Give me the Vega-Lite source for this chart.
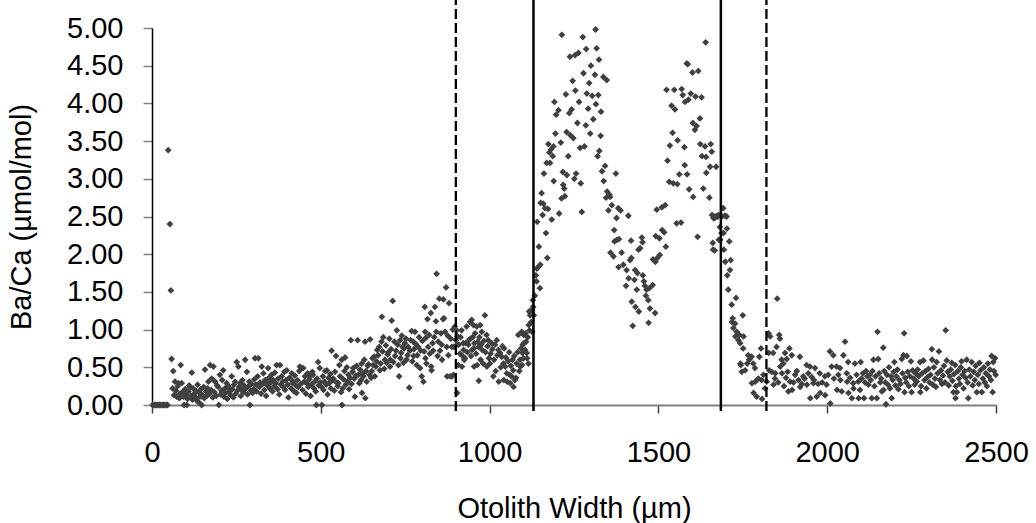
{
  "$schema": "https://vega.github.io/schema/vega-lite/v6.json",
  "width": 844,
  "height": 377,
  "autosize": {"type": "none"},
  "padding": {"left": 152, "top": 28, "right": 40, "bottom": 118},
  "background": "white",
  "config": {
    "view": {"stroke": null},
    "font": "Liberation Sans",
    "axis": {"grid": false, "labelColor": "#000000", "titleColor": "#000000", "titleFontWeight": "normal", "labelFontSize": 29, "titleFontSize": 29, "labelFont": "Liberation Sans", "titleFont": "Liberation Sans", "labelOverlap": false, "labelSeparation": 0, "labelFlush": false, "labelBound": false}
  },
  "datasets": {
    "scan": [
      {"w":2,"r":0},{"w":6,"r":0},{"w":10,"r":0},{"w":14,"r":0},{"w":18,"r":0},{"w":22,"r":0},{"w":26,"r":0},{"w":30,"r":0},{"w":34,"r":0},{"w":38,"r":0},{"w":42,"r":0},{"w":46,"r":0},
      {"w":48,"r":3.38},{"w":53,"r":2.40},{"w":56,"r":1.52},{"w":58,"r":0.61},
      {"w":61,"r":0.22},{"w":63,"r":0.45},{"w":65,"r":0.13},{"w":68,"r":0.31},{"w":71,"r":0.19},{"w":73,"r":0.11},{"w":76,"r":0.25},{"w":78,"r":0.29},{"w":81,"r":0.09},{"w":83,"r":0.15},{"w":85,"r":0.53},{"w":88,"r":0.29},{"w":90,"r":0.17},{"w":93,"r":0.11},{"w":95,"r":0.0},{"w":98,"r":0.21},{"w":100,"r":0.14},{"w":103,"r":0.0},{"w":105,"r":0.08},{"w":108,"r":0.18},{"w":110,"r":0.26},{"w":113,"r":0.24},{"w":115,"r":0.12},{"w":118,"r":0.43},{"w":120,"r":0.07},{"w":122,"r":0.22},{"w":125,"r":0.15},{"w":127,"r":0.11},{"w":130,"r":0.19},{"w":133,"r":0.06},{"w":135,"r":0.27},{"w":137,"r":0.04},{"w":140,"r":0.16},{"w":142,"r":0.11},{"w":145,"r":0.21},{"w":147,"r":0.0},{"w":150,"r":0.13},{"w":153,"r":0.24},{"w":155,"r":0.09},{"w":157,"r":0.47},{"w":160,"r":0.18},{"w":162,"r":0.12},{"w":165,"r":0.22},{"w":167,"r":0.31},{"w":170,"r":0.15},{"w":172,"r":0.53},{"w":175,"r":0.20},{"w":177,"r":0.35},{"w":180,"r":0.10},{"w":182,"r":0.51},{"w":185,"r":0.17},{"w":187,"r":0.31},{"w":190,"r":0.12},{"w":193,"r":0.26},{"w":196,"r":0.24},{"w":198,"r":0.0},{"w":201,"r":0.40},{"w":203,"r":0.14},{"w":206,"r":0.19},{"w":208,"r":0.33},{"w":211,"r":0.46},{"w":213,"r":0.11},{"w":216,"r":0.22},{"w":218,"r":0.16},{"w":221,"r":0.29},{"w":223,"r":0.08},{"w":226,"r":0.25},{"w":228,"r":0.17},{"w":231,"r":0.20},{"w":233,"r":0.13},{"w":236,"r":0.38},{"w":238,"r":0.21},{"w":241,"r":0.10},{"w":243,"r":0.27},{"w":246,"r":0.31},{"w":248,"r":0.15},{"w":251,"r":0.57},{"w":253,"r":0.19},{"w":256,"r":0.51},{"w":258,"r":0.24},{"w":261,"r":0.29},{"w":263,"r":0.12},{"w":266,"r":0.20},{"w":268,"r":0.33},{"w":271,"r":0.17},{"w":273,"r":0.26},{"w":276,"r":0.60},{"w":278,"r":0.22},{"w":281,"r":0.44},{"w":283,"r":0.14},{"w":286,"r":0.25},{"w":288,"r":0.31},{"w":290,"r":0.0},{"w":293,"r":0.19},{"w":295,"r":0.28},{"w":298,"r":0.16},
      {"w":301,"r":0.21},{"w":303,"r":0.34},{"w":305,"r":0.62},{"w":308,"r":0.27},{"w":310,"r":0.18},{"w":313,"r":0.38},{"w":315,"r":0.62},{"w":318,"r":0.24},{"w":320,"r":0.30},{"w":323,"r":0.15},{"w":325,"r":0.51},{"w":328,"r":0.28},{"w":330,"r":0.42},{"w":333,"r":0.20},{"w":335,"r":0.33},{"w":338,"r":0.12},{"w":339,"r":0.31},{"w":342,"r":0.26},{"w":344,"r":0.49},{"w":347,"r":0.36},{"w":349,"r":0.22},{"w":352,"r":0.30},{"w":354,"r":0.40},{"w":357,"r":0.18},{"w":359,"r":0.33},{"w":362,"r":0.25},{"w":364,"r":0.43},{"w":367,"r":0.29},{"w":369,"r":0.53},{"w":372,"r":0.21},{"w":374,"r":0.35},{"w":377,"r":0.14},{"w":379,"r":0.53},{"w":382,"r":0.27},{"w":384,"r":0.38},{"w":387,"r":0.31},{"w":389,"r":0.24},{"w":392,"r":0.44},{"w":394,"r":0.20},{"w":397,"r":0.33},{"w":399,"r":0.46},{"w":402,"r":0.27},{"w":404,"r":0.10},{"w":407,"r":0.36},{"w":409,"r":0.35},{"w":412,"r":0.22},{"w":414,"r":0.42},{"w":417,"r":0.29},{"w":418,"r":0.31},{"w":421,"r":0.18},{"w":423,"r":0.39},{"w":426,"r":0.26},{"w":428,"r":0.16},{"w":431,"r":0.33},{"w":433,"r":0.24},{"w":436,"r":0.45},{"w":438,"r":0.51},{"w":441,"r":0.28},{"w":443,"r":0.49},{"w":446,"r":0.20},{"w":448,"r":0.49},{"w":451,"r":0.31},{"w":453,"r":0.38},{"w":456,"r":0.15},{"w":458,"r":0.29},{"w":461,"r":0.42},{"w":463,"r":0.24},{"w":466,"r":0.34},{"w":467,"r":0.38},{"w":470,"r":0.12},{"w":472,"r":0.27},{"w":475,"r":0.44},{"w":477,"r":0.40},{"w":480,"r":0.22},{"w":482,"r":0.31},{"w":485,"r":0.18},{"w":487,"r":0.0},{"w":489,"r":0.35},{"w":492,"r":0.57},{"w":494,"r":0.26},{"w":497,"r":0.49},{"w":499,"r":0.30},
      {"w":502,"r":0.24},{"w":503,"r":0.0},{"w":506,"r":0.38},{"w":508,"r":0.20},{"w":511,"r":0.31},{"w":513,"r":0.45},{"w":516,"r":0.27},{"w":518,"r":0.46},{"w":520,"r":0.14},{"w":523,"r":0.36},{"w":525,"r":0.29},{"w":528,"r":0.41},{"w":530,"r":0.22},{"w":532,"r":0.72},{"w":535,"r":0.33},{"w":537,"r":0.35},{"w":540,"r":0.19},{"w":542,"r":0.44},{"w":545,"r":0.65},{"w":547,"r":0.30},{"w":550,"r":0.25},{"w":552,"r":0.29},{"w":555,"r":0.53},{"w":557,"r":0.38},{"w":560,"r":0.17},{"w":562,"r":0.60},{"w":563,"r":0.0},{"w":565,"r":0.22},{"w":567,"r":0.34},{"w":570,"r":0.45},{"w":572,"r":0.63},{"w":574,"r":0.27},{"w":577,"r":0.50},{"w":579,"r":0.31},{"w":582,"r":0.40},{"w":584,"r":0.21},{"w":587,"r":0.36},{"w":589,"r":0.86},{"w":591,"r":0.28},{"w":594,"r":0.44},{"w":596,"r":0.49},{"w":599,"r":0.35},{"w":601,"r":0.11},{"w":604,"r":0.39},{"w":606,"r":0.52},{"w":609,"r":0.86},{"w":611,"r":0.40},{"w":614,"r":0.29},{"w":616,"r":0.47},{"w":619,"r":0.33},{"w":621,"r":0.55},{"w":622,"r":0.16},{"w":624,"r":0.42},{"w":626,"r":0.38},{"w":629,"r":0.60},{"w":631,"r":0.84},{"w":632,"r":0.09},{"w":634,"r":0.45},{"w":636,"r":0.31},{"w":639,"r":0.52},{"w":641,"r":0.54},{"w":644,"r":0.40},{"w":646,"r":0.87},{"w":649,"r":0.36},
      {"w":651,"r":0.45},{"w":653,"r":0.62},{"w":655,"r":0.53},{"w":658,"r":0.64},{"w":660,"r":0.38},{"w":663,"r":0.51},{"w":665,"r":0.58},{"w":667,"r":0.73},{"w":670,"r":0.66},{"w":673,"r":0.77},{"w":675,"r":0.46},{"w":677,"r":0.55},{"w":680,"r":0.84},{"w":681,"r":1.17},{"w":683,"r":0.71},{"w":685,"r":0.90},{"w":688,"r":0.48},{"w":690,"r":0.60},{"w":693,"r":0.79},{"w":695,"r":0.56},{"w":698,"r":0.67},{"w":700,"r":0.70},{"w":703,"r":0.88},{"w":705,"r":0.51},{"w":706,"r":0.60},{"w":708,"r":0.74},{"w":710,"r":1.12},{"w":713,"r":1.38},{"w":715,"r":0.57},{"w":718,"r":0.84},{"w":720,"r":0.65},{"w":723,"r":0.72},{"w":725,"r":0.99},{"w":728,"r":0.80},{"w":730,"r":0.53},{"w":732,"r":0.38},{"w":735,"r":0.86},{"w":736,"r":0.62},{"w":738,"r":0.69},{"w":740,"r":0.92},{"w":742,"r":0.77},{"w":745,"r":0.56},{"w":747,"r":0.75},{"w":749,"r":0.82},{"w":752,"r":0.88},{"w":754,"r":0.60},{"w":757,"r":0.66},{"w":759,"r":0.77},{"w":762,"r":0.23},{"w":764,"r":0.72},{"w":766,"r":0.86},{"w":769,"r":0.98},{"w":771,"r":0.58},{"w":774,"r":0.84},{"w":775,"r":0.65},{"w":776,"r":0.74},{"w":779,"r":0.97},{"w":781,"r":0.81},{"w":784,"r":0.53},{"w":786,"r":0.66},{"w":789,"r":0.77},{"w":791,"r":0.90},{"w":794,"r":0.49},{"w":796,"r":0.72},{"w":799,"r":0.38},{"w":801,"r":0.85},{"w":804,"r":0.31},{"w":806,"r":0.71},{"w":808,"r":1.30},{"w":809,"r":0.97},{"w":810,"r":0.62},{"w":811,"r":0.89},{"w":813,"r":0.55},{"w":816,"r":1.14},{"w":818,"r":0.77},{"w":821,"r":0.93},{"w":823,"r":0.68},{"w":826,"r":1.22},{"w":827,"r":0.51},{"w":828,"r":0.46},{"w":831,"r":0.82},{"w":833,"r":0.72},{"w":836,"r":0.90},{"w":838,"r":1.30},{"w":841,"r":1.11},{"w":842,"r":0.97},{"w":843,"r":1.74},{"w":846,"r":0.65},{"w":848,"r":0.84},
      {"w":851,"r":1.41},{"w":853,"r":0.72},{"w":856,"r":0.95},{"w":858,"r":0.80},{"w":859,"r":0.60},{"w":862,"r":1.14},{"w":863,"r":1.40},{"w":865,"r":1.15},{"w":868,"r":0.97},{"w":871,"r":1.56},{"w":873,"r":0.77},{"w":874,"r":0.38},{"w":876,"r":0.92},{"w":878,"r":0.66},{"w":880,"r":1.35},{"w":883,"r":0.38},{"w":885,"r":0.88},{"w":888,"r":0.77},{"w":889,"r":0.38},{"w":891,"r":1.00},{"w":893,"r":0.40},{"w":894,"r":0.77},{"w":897,"r":1.04},{"w":900,"r":0.86},{"w":902,"r":0.99},{"w":903,"r":0.80},{"w":904,"r":0.16},{"w":905,"r":0.91},{"w":907,"r":0.53},{"w":909,"r":0.80},{"w":912,"r":0.68},{"w":914,"r":0.90},{"w":917,"r":0.99},{"w":918,"r":0.51},{"w":920,"r":0.65},{"w":922,"r":0.82},{"w":923,"r":0.73},{"w":925,"r":0.60},{"w":927,"r":0.62},{"w":929,"r":0.82},{"w":932,"r":1.04},{"w":934,"r":0.70},{"w":937,"r":0.80},{"w":939,"r":0.86},{"w":942,"r":1.10},{"w":943,"r":0.88},{"w":945,"r":0.65},{"w":947,"r":1.13},{"w":948,"r":0.73},{"w":950,"r":0.90},{"w":952,"r":1.06},{"w":953,"r":0.75},{"w":954,"r":0.51},{"w":955,"r":0.82},{"w":957,"r":0.95},{"w":960,"r":0.68},{"w":962,"r":1.04},{"w":963,"r":0.53},{"w":965,"r":0.84},{"w":967,"r":0.77},{"w":968,"r":0.32},{"w":970,"r":0.90},{"w":972,"r":1.06},{"w":973,"r":0.60},{"w":975,"r":0.80},{"w":977,"r":0.97},{"w":978,"r":0.73},{"w":981,"r":0.55},{"w":983,"r":0.85},{"w":986,"r":1.19},{"w":988,"r":0.70},{"w":991,"r":0.93},{"w":992,"r":0.51},{"w":994,"r":0.78},{"w":996,"r":0.86},{"w":998,"r":0.62},
      {"w":1001,"r":0.55},{"w":1003,"r":0.68},{"w":1006,"r":0.82},{"w":1008,"r":0.74},{"w":1011,"r":0.38},{"w":1013,"r":0.60},{"w":1016,"r":0.80},{"w":1018,"r":0.45},{"w":1021,"r":0.86},{"w":1023,"r":0.66},{"w":1026,"r":0.73},{"w":1027,"r":0.31},{"w":1031,"r":0.69},{"w":1033,"r":0.50},{"w":1036,"r":0.64},{"w":1038,"r":0.78},{"w":1041,"r":0.55},{"w":1042,"r":0.33},{"w":1043,"r":0.75},{"w":1046,"r":0.51},{"w":1048,"r":0.63},{"w":1051,"r":0.42},{"w":1052,"r":0.31},{"w":1055,"r":0.58},{"w":1058,"r":0.70},{"w":1060,"r":0.40},{"w":1061,"r":0.29},{"w":1063,"r":0.52},{"w":1065,"r":0.38},{"w":1068,"r":0.60},{"w":1070,"r":0.46},{"w":1071,"r":0.24},{"w":1073,"r":0.65},{"w":1075,"r":0.33},{"w":1078,"r":0.36},{"w":1080,"r":0.55},{"w":1083,"r":0.70},{"w":1085,"r":0.93},{"w":1088,"r":0.45},{"w":1090,"r":0.60},{"w":1091,"r":0.51},{"w":1093,"r":0.75},{"w":1095,"r":0.97},{"w":1096,"r":0.53},{"w":1097,"r":0.69},{"w":1098,"r":0.80},{"w":1100,"r":0.62},{"w":1101,"r":0.93},{"w":1102,"r":0.82},{"w":1105,"r":0.73},{"w":1106,"r":0.95},{"w":1108,"r":0.84},{"w":1110,"r":0.69},{"w":1111,"r":0.62},{"w":1113,"r":0.90},{"w":1115,"r":0.55},{"w":1116,"r":1.06},{"w":1117,"r":1.24},{"w":1118,"r":0.99},{"w":1120,"r":1.19},{"w":1123,"r":1.10},{"w":1125,"r":1.26},{"w":1126,"r":0.97},{"w":1128,"r":1.39},{"w":1129,"r":1.30},{"w":1131,"r":1.19},
      {"w":1134,"r":1.45},{"w":1137,"r":1.72},{"w":1139,"r":1.64},{"w":1140,"r":1.81},{"w":1141,"r":2.43},{"w":1144,"r":1.83},{"w":1146,"r":2.10},{"w":1149,"r":1.55},{"w":1150,"r":1.86},{"w":1151,"r":2.68},{"w":1154,"r":2.81},{"w":1157,"r":2.52},{"w":1159,"r":2.67},{"w":1161,"r":3.07},{"w":1164,"r":2.61},{"w":1167,"r":2.28},{"w":1169,"r":3.21},{"w":1171,"r":1.95},{"w":1173,"r":2.60},{"w":1174,"r":3.46},{"w":1177,"r":3.35},{"w":1179,"r":3.21},{"w":1182,"r":3.39},{"w":1184,"r":2.46},{"w":1187,"r":3.30},{"w":1189,"r":3.43},{"w":1190,"r":2.97},{"w":1192,"r":4.02},{"w":1195,"r":3.60},{"w":1197,"r":3.85},
      {"w":1204,"r":3.91},{"w":1206,"r":2.54},{"w":1211,"r":3.48},{"w":1213,"r":2.74},{"w":1214,"r":4.91},{"w":1217,"r":3.09},{"w":1218,"r":2.92},{"w":1221,"r":2.87},{"w":1223,"r":2.77},{"w":1226,"r":4.12},{"w":1228,"r":3.62},{"w":1229,"r":3.05},{"w":1233,"r":3.30},{"w":1236,"r":3.87},{"w":1238,"r":4.62},{"w":1239,"r":3.58},{"w":1243,"r":3.92},{"w":1246,"r":4.30},{"w":1248,"r":3.54},{"w":1251,"r":3.00},{"w":1253,"r":4.64},{"w":1254,"r":4.17},{"w":1256,"r":3.07},{"w":1260,"r":3.74},{"w":1263,"r":4.67},{"w":1265,"r":4.02},{"w":1268,"r":3.41},{"w":1270,"r":2.94},{"w":1273,"r":2.56},{"w":1276,"r":4.88},{"w":1278,"r":4.40},{"w":1281,"r":3.43},{"w":1285,"r":3.71},{"w":1286,"r":4.72},{"w":1288,"r":4.13},{"w":1292,"r":3.93},{"w":1295,"r":4.27},{"w":1298,"r":3.60},{"w":1300,"r":4.50},{"w":1304,"r":4.10},{"w":1307,"r":3.79},{"w":1312,"r":4.38},{"w":1314,"r":4.98},{"w":1315,"r":3.99},{"w":1317,"r":4.73},{"w":1320,"r":3.30},{"w":1322,"r":4.11},{"w":1324,"r":4.58},{"w":1325,"r":3.37},{"w":1329,"r":3.57},{"w":1330,"r":3.89},{"w":1333,"r":3.10},{"w":1337,"r":4.35},{"w":1338,"r":2.97},{"w":1342,"r":3.17},{"w":1345,"r":2.75},{"w":1347,"r":4.31},{"w":1348,"r":2.83},
      {"w":1352,"r":2.58},{"w":1355,"r":2.79},{"w":1357,"r":2.76},{"w":1358,"r":2.02},{"w":1362,"r":2.65},{"w":1367,"r":1.97},{"w":1369,"r":2.32},{"w":1370,"r":2.17},{"w":1374,"r":3.07},{"w":1376,"r":2.48},{"w":1377,"r":2.19},{"w":1381,"r":2.61},{"w":1382,"r":1.83},{"w":1383,"r":2.20},{"w":1388,"r":2.58},{"w":1391,"r":2.02},{"w":1396,"r":1.86},{"w":1404,"r":1.58},{"w":1406,"r":1.79},{"w":1411,"r":2.51},{"w":1412,"r":1.68},{"w":1416,"r":1.92},{"w":1419,"r":2.18},{"w":1420,"r":1.95},{"w":1421,"r":1.37},{"w":1424,"r":1.05},{"w":1429,"r":1.66},{"w":1431,"r":1.79},{"w":1432,"r":1.30},{"w":1436,"r":1.53},{"w":1438,"r":1.75},{"w":1441,"r":2.06},{"w":1442,"r":1.24},{"w":1446,"r":2.08},{"w":1451,"r":2.22},{"w":1453,"r":2.16},{"w":1454,"r":1.72},{"w":1457,"r":1.64},{"w":1460,"r":1.58},{"w":1463,"r":1.45},{"w":1465,"r":1.53},{"w":1470,"r":1.39},{"w":1471,"r":1.09},{"w":1473,"r":1.55},{"w":1475,"r":1.28},{"w":1483,"r":1.59},{"w":1484,"r":1.93},{"w":1490,"r":1.22},{"w":1491,"r":1.90},{"w":1492,"r":2.24},
      {"w":1495,"r":2.59},{"w":1497,"r":1.95},{"w":1503,"r":2.21},{"w":1504,"r":1.99},{"w":1510,"r":2.62},{"w":1511,"r":2.32},{"w":1517,"r":2.29},{"w":1520,"r":2.65},{"w":1522,"r":2.10},{"w":1524,"r":4.18},{"w":1527,"r":3.24},{"w":1532,"r":2.96},{"w":1534,"r":3.44},{"w":1539,"r":3.97},{"w":1542,"r":3.61},{"w":1544,"r":2.94},{"w":1547,"r":4.18},{"w":1549,"r":3.92},{"w":1554,"r":2.41},{"w":1556,"r":2.93},{"w":1557,"r":3.51},{"w":1562,"r":3.06},{"w":1567,"r":2.42},{"w":1569,"r":4.19},{"w":1572,"r":4.11},{"w":1577,"r":3.42},{"w":1578,"r":3.18},{"w":1579,"r":4.02},{"w":1584,"r":4.53},{"w":1585,"r":3.06},{"w":1587,"r":4.52},{"w":1589,"r":4.05},{"w":1591,"r":2.86},{"w":1596,"r":4.13},{"w":1601,"r":4.41},{"w":1602,"r":3.74},{"w":1603,"r":2.76},{"w":1608,"r":3.65},{"w":1610,"r":4.09},{"w":1613,"r":3.70},{"w":1616,"r":2.23},{"w":1618,"r":4.43},{"w":1623,"r":3.80},{"w":1624,"r":3.46},{"w":1628,"r":4.08},{"w":1629,"r":3.30},{"w":1633,"r":2.87},{"w":1638,"r":3.43},{"w":1640,"r":4.81},{"w":1641,"r":3.29},{"w":1642,"r":3.08},{"w":1651,"r":2.75},{"w":1653,"r":3.16},{"w":1655,"r":3.46},{"w":1658,"r":3.36},{"w":1659,"r":2.52},{"w":1661,"r":2.15},{"w":1662,"r":2.06},{"w":1663,"r":2.48},{"w":1666,"r":2.48},{"w":1667,"r":2.05},{"w":1668,"r":2.50},{"w":1671,"r":3.16},{"w":1673,"r":2.50},{"w":1676,"r":2.50},{"w":1678,"r":2.52},{"w":1679,"r":2.19},
      {"w":1682,"r":2.36},{"w":1683,"r":2.19},{"w":1687,"r":2.28},{"w":1688,"r":2.50},{"w":1692,"r":2.61},{"w":1693,"r":2.28},{"w":1694,"r":2.06},{"w":1697,"r":2.51},{"w":1698,"r":1.90},{"w":1702,"r":2.50},{"w":1703,"r":2.34},{"w":1704,"r":1.72},{"w":1707,"r":1.53},{"w":1710,"r":2.17},{"w":1712,"r":1.79},{"w":1714,"r":1.92},{"w":1717,"r":1.33},{"w":1718,"r":1.10},{"w":1720,"r":1.15},{"w":1722,"r":1.02},{"w":1727,"r":1.08},{"w":1728,"r":0.91},{"w":1730,"r":1.42},{"w":1732,"r":0.97},{"w":1737,"r":0.86},{"w":1740,"r":0.93},{"w":1742,"r":0.82},{"w":1743,"r":0.55},{"w":1744,"r":0.53},{"w":1747,"r":0.44},{"w":1750,"r":1.19},{"w":1751,"r":0.75},{"w":1752,"r":0.91},{"w":1757,"r":0.46},{"w":1763,"r":0.55},{"w":1766,"r":0.66},{"w":1769,"r":0.60},{"w":1776,"r":0.64},{"w":1777,"r":0.29},{"w":1781,"r":0.55},{"w":1782,"r":0.16},{"w":1786,"r":0.49},{"w":1787,"r":0.31},{"w":1791,"r":0.11},{"w":1796,"r":0.35},{"w":1799,"r":0.64},{"w":1804,"r":0.75},{"w":1806,"r":0.33},{"w":1807,"r":0.08},{"w":1811,"r":0.40},{"w":1816,"r":0.22},{"w":1821,"r":0.31},{"w":1826,"r":0.95},{"w":1827,"r":0.69},{"w":1828,"r":0.46},{"w":1831,"r":0.91},{"w":1836,"r":0.44},{"w":1840,"r":0.69},{"w":1841,"r":0.27},{"w":1845,"r":0.35},{"w":1846,"r":0.42},{"w":1850,"r":0.77},{"w":1852,"r":1.41},{"w":1855,"r":0.30},{"w":1858,"r":0.93},{"w":1860,"r":0.88},{"w":1861,"r":0.51},{"w":1865,"r":0.60},{"w":1866,"r":0.42},{"w":1870,"r":0.55},{"w":1872,"r":0.25},{"w":1875,"r":0.69},{"w":1878,"r":0.36},{"w":1880,"r":0.61},{"w":1883,"r":0.44},{"w":1885,"r":0.18},{"w":1888,"r":0.75},{"w":1890,"r":0.31},{"w":1895,"r":0.66},{"w":1896,"r":0.20},{"w":1900,"r":0.30},{"w":1905,"r":0.40},{"w":1910,"r":0.45},{"w":1915,"r":0.33},{"w":1919,"r":0.64},{"w":1920,"r":0.24},{"w":1925,"r":0.28},{"w":1929,"r":0.38},{"w":1933,"r":0.35},{"w":1939,"r":0.53},{"w":1940,"r":0.27},{"w":1944,"r":0.42},{"w":1949,"r":0.51},{"w":1950,"r":0.09},{"w":1954,"r":0.37},{"w":1959,"r":0.29},{"w":1961,"r":0.33},{"w":1964,"r":0.49},{"w":1969,"r":0.11},{"w":1973,"r":0.28},{"w":1978,"r":0.42},{"w":1979,"r":0.16},{"w":1985,"r":0.30},{"w":1993,"r":0.38},{"w":1994,"r":0.13},{"w":1998,"r":0.27},{"w":2003,"r":0.40},{"w":2008,"r":0.71},{"w":2009,"r":0.02},{"w":2013,"r":0.51},{"w":2018,"r":0.66},{"w":2020,"r":0.35},{"w":2028,"r":0.51},{"w":2029,"r":0.20},{"w":2033,"r":0.40},{"w":2038,"r":0.49},{"w":2039,"r":0.33},{"w":2043,"r":0.18},{"w":2048,"r":0.66},{"w":2053,"r":0.84},{"w":2058,"r":0.42},{"w":2059,"r":0.31},{"w":2062,"r":0.57},{"w":2063,"r":0.16},{"w":2068,"r":0.36},{"w":2073,"r":0.09},{"w":2077,"r":0.29},{"w":2078,"r":0.22},{"w":2082,"r":0.55},{"w":2087,"r":0.40},{"w":2092,"r":0.31},{"w":2093,"r":0.09},{"w":2097,"r":0.20},{"w":2099,"r":0.57},
      {"w":2102,"r":0.35},{"w":2106,"r":0.42},{"w":2109,"r":0.09},{"w":2112,"r":0.30},{"w":2115,"r":0.45},{"w":2119,"r":0.38},{"w":2122,"r":0.27},{"w":2126,"r":0.40},{"w":2129,"r":0.33},{"w":2132,"r":0.09},{"w":2134,"r":0.45},{"w":2137,"r":0.60},{"w":2140,"r":0.25},{"w":2143,"r":0.38},{"w":2147,"r":0.09},{"w":2149,"r":0.97},{"w":2151,"r":0.61},{"w":2154,"r":0.42},{"w":2157,"r":0.30},{"w":2160,"r":0.35},{"w":2162,"r":0.18},{"w":2166,"r":0.76},{"w":2167,"r":0.20},{"w":2169,"r":0.45},{"w":2172,"r":0.30},{"w":2174,"r":0.01},{"w":2177,"r":0.40},{"w":2180,"r":0.27},{"w":2183,"r":0.50},{"w":2186,"r":0.22},{"w":2189,"r":0.38},{"w":2191,"r":0.09},{"w":2194,"r":0.33},{"w":2197,"r":0.44},{"w":2199,"r":0.57},{"w":2202,"r":0.26},{"w":2205,"r":0.38},{"w":2208,"r":0.47},{"w":2211,"r":0.21},{"w":2214,"r":0.33},{"w":2217,"r":0.28},{"w":2221,"r":0.61},{"w":2223,"r":0.42},{"w":2226,"r":0.66},{"w":2228,"r":0.95},{"w":2229,"r":0.17},{"w":2231,"r":0.36},{"w":2234,"r":0.30},{"w":2236,"r":0.65},{"w":2239,"r":0.44},{"w":2242,"r":0.25},{"w":2245,"r":0.38},{"w":2248,"r":0.58},{"w":2250,"r":0.17},{"w":2253,"r":0.46},{"w":2256,"r":0.35},{"w":2259,"r":0.27},{"w":2262,"r":0.42},{"w":2265,"r":0.31},{"w":2268,"r":0.47},{"w":2271,"r":0.38},{"w":2275,"r":0.57},{"w":2276,"r":0.17},{"w":2278,"r":0.25},{"w":2281,"r":0.42},{"w":2285,"r":0.59},{"w":2288,"r":0.33},{"w":2291,"r":0.45},{"w":2294,"r":0.22},{"w":2297,"r":0.37},{"w":2300,"r":0.48},{"w":2303,"r":0.30},{"w":2306,"r":0.40},{"w":2310,"r":0.74},{"w":2311,"r":0.60},{"w":2313,"r":0.27},{"w":2316,"r":0.50},{"w":2319,"r":0.35},{"w":2322,"r":0.24},{"w":2324,"r":0.57},{"w":2327,"r":0.42},{"w":2331,"r":0.71},{"w":2334,"r":0.33},{"w":2337,"r":0.46},{"w":2340,"r":0.28},{"w":2343,"r":0.39},{"w":2346,"r":0.52},{"w":2349,"r":0.30},{"w":2351,"r":0.99},{"w":2354,"r":0.59},{"w":2357,"r":0.44},{"w":2360,"r":0.26},{"w":2363,"r":0.38},{"w":2366,"r":0.47},{"w":2369,"r":0.56},{"w":2371,"r":0.32},{"w":2374,"r":0.17},{"w":2376,"r":0.41},{"w":2379,"r":0.53},{"w":2380,"r":0.09},{"w":2381,"r":0.25},{"w":2384,"r":0.17},{"w":2387,"r":0.45},{"w":2390,"r":0.35},{"w":2393,"r":0.28},{"w":2396,"r":0.50},{"w":2398,"r":0.58},{"w":2401,"r":0.40},{"w":2404,"r":0.22},{"w":2407,"r":0.45},{"w":2410,"r":0.36},{"w":2413,"r":0.60},{"w":2416,"r":0.30},{"w":2418,"r":0.09},{"w":2421,"r":0.47},{"w":2424,"r":0.38},{"w":2428,"r":0.57},{"w":2431,"r":0.26},{"w":2434,"r":0.44},{"w":2437,"r":0.33},{"w":2440,"r":0.52},{"w":2443,"r":0.17},{"w":2446,"r":0.40},{"w":2449,"r":0.28},{"w":2451,"r":0.56},{"w":2454,"r":0.46},{"w":2458,"r":0.17},{"w":2461,"r":0.35},{"w":2464,"r":0.50},{"w":2467,"r":0.30},{"w":2470,"r":0.42},{"w":2473,"r":0.25},{"w":2476,"r":0.55},{"w":2479,"r":0.38},{"w":2482,"r":0.47},{"w":2485,"r":0.33},{"w":2487,"r":0.65},{"w":2490,"r":0.17},{"w":2492,"r":0.57},{"w":2494,"r":0.45},{"w":2497,"r":0.62},{"w":2499,"r":0.40}
    ],
    "zoneEdges": [
      {"w": 900, "style": "dashed"},
      {"w": 1130, "style": "solid"},
      {"w": 1685, "style": "solid"},
      {"w": 1820, "style": "dashed"}
    ]
  },
  "encoding": {
    "x": {
      "field": "w", "type": "quantitative",
      "scale": {"domain": [0, 2500], "nice": false, "zero": false},
      "axis": {
        "values": [0, 500, 1000, 1500, 2000, 2500],
        "format": "d",
        "title": "Otolith Width (µm)",
        "domainColor": "#808080", "domainWidth": 2,
        "tickColor": "#404040", "tickWidth": 1.5, "tickSize": 8,
        "labelPadding": 25, "titlePadding": 27,
        "labelFlush": false, "labelOverlap": false
      }
    }
  },
  "layer": [
    {
      "data": {"name": "scan"},
      "mark": {"type": "point", "shape": "diamond", "filled": true, "size": 46, "color": "#404040", "opacity": 1, "strokeWidth": 0},
      "encoding": {
        "y": {
          "field": "r", "type": "quantitative",
          "scale": {"domain": [0, 5], "nice": false, "zero": false},
          "axis": {
            "values": [0, 0.5, 1, 1.5, 2, 2.5, 3, 3.5, 4, 4.5, 5],
            "format": ".2f",
            "title": "Ba/Ca (µmol/mol)",
            "domainColor": "#000000", "domainWidth": 1.5,
            "tickColor": "#808080", "tickWidth": 1.5, "tickSize": 9,
            "labelPadding": 20, "titlePadding": 30,
            "labelFlush": false, "labelOverlap": false, "labelBound": false
          }
        }
      }
    },
    {
      "data": {"name": "zoneEdges"},
      "transform": [{"filter": "datum.style === 'solid'"}],
      "mark": {"type": "rule", "color": "#000000", "strokeWidth": 2.5},
      "encoding": {
        "y": {
          "datum": -0.08, "type": "quantitative",
          "scale": {"domain": [0, 5], "nice": false, "zero": false},
          "axis": {
            "values": [0, 0.5, 1, 1.5, 2, 2.5, 3, 3.5, 4, 4.5, 5],
            "format": ".2f",
            "title": "Ba/Ca (µmol/mol)",
            "domainColor": "#000000", "domainWidth": 1.5,
            "tickColor": "#808080", "tickWidth": 1.5, "tickSize": 9,
            "labelPadding": 20, "titlePadding": 30,
            "labelFlush": false, "labelOverlap": false, "labelBound": false
          }
        },
        "y2": {"datum": 5.37}
      }
    },
    {
      "data": {"name": "zoneEdges"},
      "transform": [{"filter": "datum.style === 'dashed'"}],
      "mark": {"type": "rule", "color": "#000000", "strokeWidth": 2.3, "strokeDash": [10, 4]},
      "encoding": {
        "y": {
          "datum": -0.08, "type": "quantitative",
          "scale": {"domain": [0, 5], "nice": false, "zero": false},
          "axis": {
            "values": [0, 0.5, 1, 1.5, 2, 2.5, 3, 3.5, 4, 4.5, 5],
            "format": ".2f",
            "title": "Ba/Ca (µmol/mol)",
            "domainColor": "#000000", "domainWidth": 1.5,
            "tickColor": "#808080", "tickWidth": 1.5, "tickSize": 9,
            "labelPadding": 20, "titlePadding": 30,
            "labelFlush": false, "labelOverlap": false, "labelBound": false
          }
        },
        "y2": {"datum": 5.37}
      }
    }
  ]
}
